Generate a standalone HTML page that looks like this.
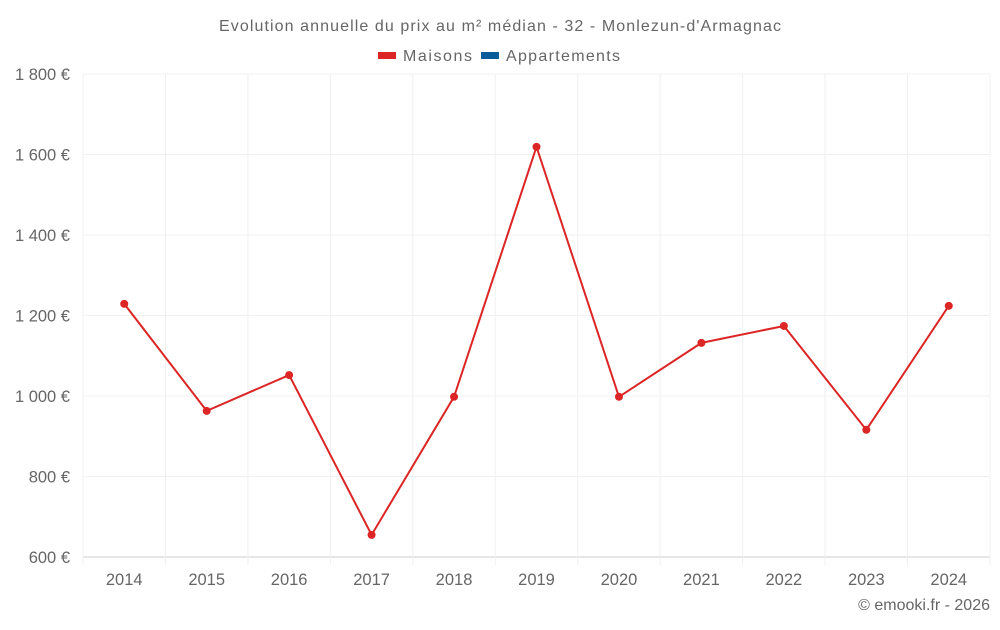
<!DOCTYPE html>
<html><head><meta charset="utf-8"><style>
body{margin:0;background:#fff;}
svg text{font-family:"Liberation Sans",sans-serif;fill:#666;}
</style></head><body>
<svg id="chart" width="1000" height="625" xmlns="http://www.w3.org/2000/svg">
<text x="219" y="31" textLength="562" lengthAdjust="spacing" font-size="16">Evolution annuelle du prix au m² médian - 32 - Monlezun-d'Armagnac</text>
<g>
<g><rect x="378" y="52" width="18" height="7" fill="#dc2626"/><text x="403" y="61" font-size="16" textLength="69" lengthAdjust="spacing">Maisons</text></g>
<g><rect x="481" y="52" width="18" height="7" fill="#075d9a"/><text x="506" y="61" font-size="16" textLength="114" lengthAdjust="spacing">Appartements</text></g>
</g>
<g id="grid"></g><g id="axes"></g><g id="series"></g>
<text x="990" y="610" text-anchor="end" font-size="16">© emooki.fr - 2026</text>
</svg>
<script>
const categories=["2014","2015","2016","2017","2018","2019","2020","2021","2022","2023","2024"];
const maisons=[1229,963,1052,655,998,1619,998,1132,1174,916,1224];
const yTicks=[600,800,1000,1200,1400,1600,1800];
const yLabels=["600 €","800 €","1 000 €","1 200 €","1 400 €","1 600 €","1 800 €"];
const L=83,R=990,T=74,B=557,yMin=600,yMax=1800;
const NS="http://www.w3.org/2000/svg";
const bw=(R-L)/categories.length;
function x(i){return L+bw*(i+0.5);}
function y(v){return B-(v-yMin)/(yMax-yMin)*(B-T);}
function mk(tag,attrs,parent){const e=document.createElementNS(NS,tag);for(const k in attrs)e.setAttribute(k,attrs[k]);parent.appendChild(e);return e;}
const grid=document.getElementById('grid'),axes=document.getElementById('axes'),ser=document.getElementById('series');
yTicks.forEach((t,i)=>{
 const ln=mk('line',{x1:L,x2:R,y1:y(t),y2:y(t),stroke:i==0?'#ccc':'#f0f0f0','stroke-width':1},grid);
 
 
 const tx=mk('text',{x:70,y:y(t)+6,'text-anchor':'end','font-size':16.5},axes);
 tx.textContent=yLabels[i];
 
 
});
for(let i=0;i<=categories.length;i++){
 const gx=L+bw*i;
 const ln=mk('line',{x1:gx,x2:gx,y1:T,y2:B+8,stroke:'#f0f0f0','stroke-width':1},grid);
 
 
}
categories.forEach((c,i)=>{
 const tx=mk('text',{x:x(i),y:585,'text-anchor':'middle','font-size':16.5},axes);
 tx.textContent=c;
 
 
});
const pl=mk('polyline',{points:maisons.map((v,i)=>x(i)+','+y(v)).join(' '),fill:'none',stroke:'#dc2626','stroke-width':2},ser);


maisons.forEach((v,i)=>{
 const c=mk('circle',{cx:x(i),cy:y(v),r:4,fill:'#dc2626'},ser);
 
 
});
</script>
</body></html>
